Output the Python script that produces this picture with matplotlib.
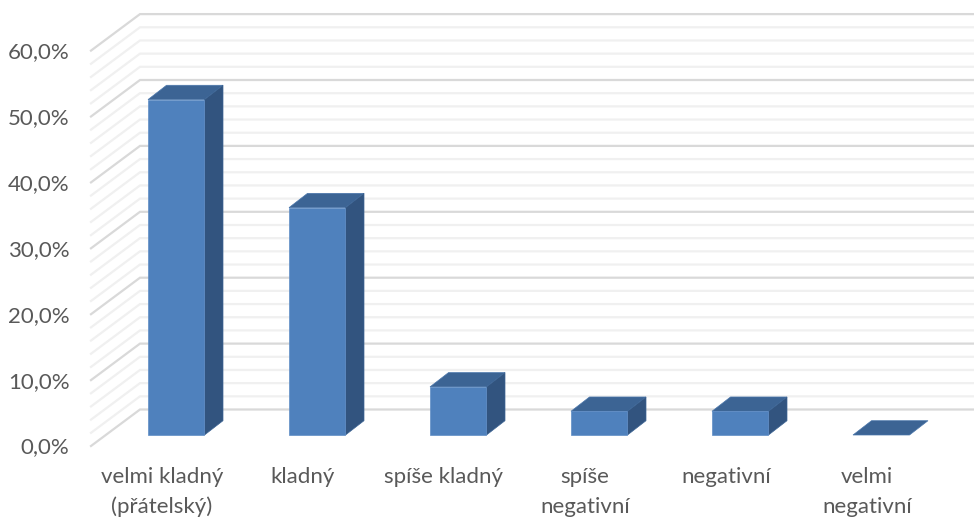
import matplotlib
matplotlib.use('Agg')
import matplotlib.pyplot as plt
from matplotlib.patches import Polygon

categories = [['velmi kladný', '(přátelský)'], ['kladný'], ['spíše kladný'],
              ['spíše', 'negativní'], ['negativní'], ['velmi', 'negativní']]
values = [50.9, 34.5, 7.3, 3.6, 3.6, 0.0]
y_ticks = [0, 10, 20, 30, 40, 50, 60]
y_tick_labels = ['0,0%', '10,0%', '20,0%', '30,0%', '40,0%', '50,0%', '60,0%']
minor_ticks = [v for v in range(0, 62, 2) if v % 10]

# scale of the fake 3D box
bar_step = 141.0     # pixels per category
unit = 6.59          # pixels per percent
bar_w = 56.5 / bar_step
depth_x = 18.5 / bar_step
depth_y = 14.3 / unit


def main():
    plt.rcParams['font.family'] = ['Lato', 'DejaVu Sans']
    fig = plt.figure(figsize=(9.74, 5.18), dpi=100)
    ax = fig.add_axes([0, 0, 1, 1])
    # category 0 starts at x=148 px, 0% of the bars sits at y=435 px
    ax.set_xlim(-148 / bar_step, (974 - 148) / bar_step)
    ax.set_ylim((435 - 518) / unit, 435 / unit)
    ax.axis('off')

    # wall and floor corners, relative to the bar baseline
    wall_front_x = (91 - 148) / bar_step
    wall_back_x = (140 - 148) / bar_step
    right_x = (974 - 148) / bar_step
    front_off = -11 / unit
    back_off = 25.5 / unit

    for v in minor_ticks + y_ticks:
        major = v in y_ticks
        col = '#d9d9d9' if major else '#f0f0f0'
        ax.plot([wall_front_x, wall_back_x, right_x],
                [v + front_off, v + back_off, v + back_off],
                color=col, lw=1.6, solid_joinstyle='miter',
                zorder=2 if major else 1)

    for i, val in enumerate(values):
        x0, x1 = i, i + bar_w
        top = [(x0, val), (x1, val), (x1 + depth_x, val + depth_y), (x0 + depth_x, val + depth_y)]
        side = [(x1, 0), (x1 + depth_x, depth_y), (x1 + depth_x, val + depth_y), (x1, val)]
        front = [(x0, 0), (x1, 0), (x1, val), (x0, val)]
        ax.add_patch(Polygon(top, fc='#3c6494', ec='#4a76ab', lw=0.5, zorder=3))
        if val > 0:
            ax.add_patch(Polygon(side, fc='#32547f', ec='#3c6494', lw=0.5, zorder=3))
            ax.add_patch(Polygon(front, fc='#4f81bd', ec='#5f8dc6', lw=0.5, zorder=4))

    # axis labels
    for v, lab in zip(y_ticks, y_tick_labels):
        ax.text(69.5 / bar_step - 148 / bar_step, v + front_off - 1.5 / unit, lab, ha='right', va='center',
                fontsize=16, color='#595959')
    for i, lines in enumerate(categories):
        cx = i + (162 - 148) / bar_step
        for j, line in enumerate(lines):
            ax.text(cx, (435 - 477 - j * 30) / unit, line, ha='center', va='center',
                    fontsize=16, color='#595959')

    fig.savefig('out.png', dpi=100)


if __name__ == '__main__':
    main()
